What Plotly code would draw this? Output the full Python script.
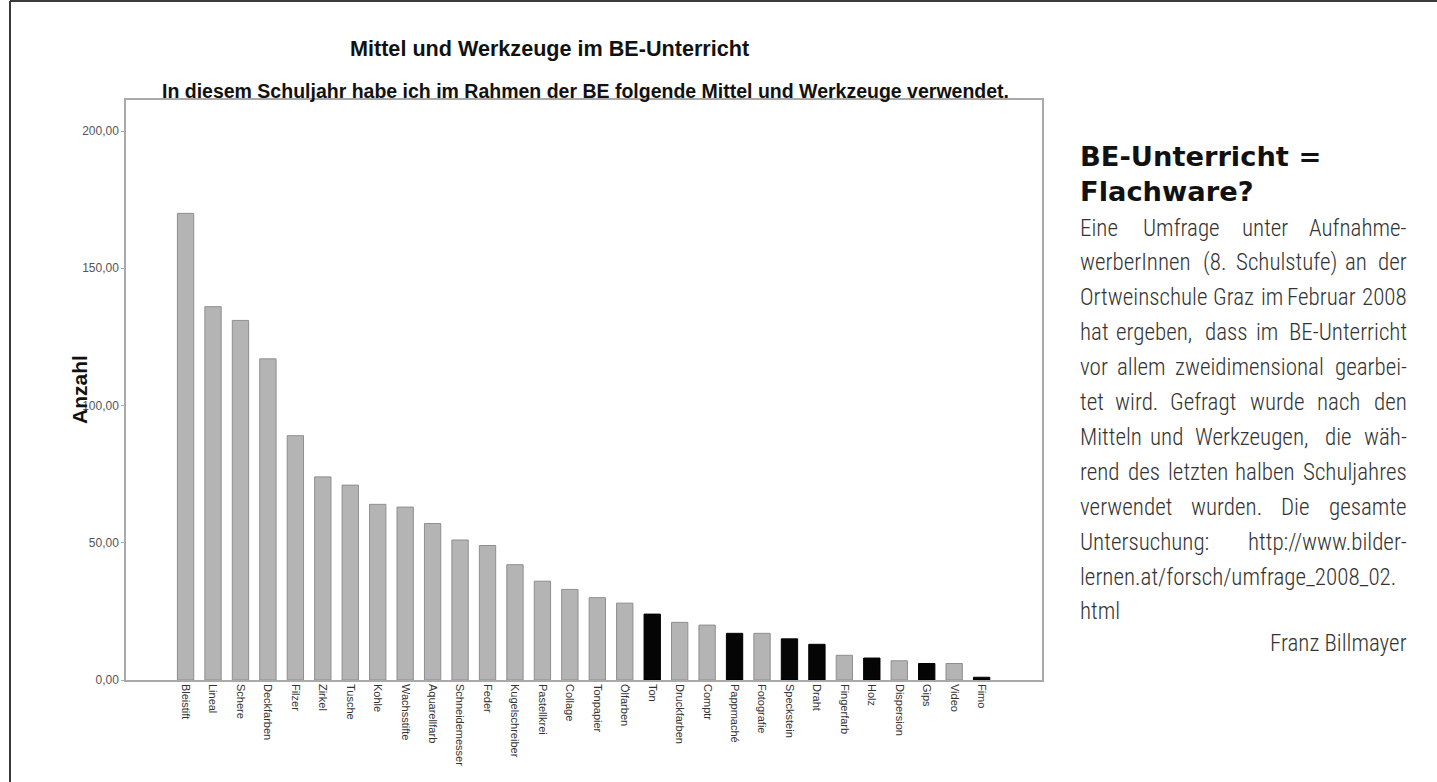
import plotly.graph_objects as go

# ---------------- data ----------------
categories = ["Bleistift", "Lineal", "Schere", "Deckfarben", "Filzer", "Zirkel", "Tusche",
              "Kohle", "Wachsstifte", "Aquarellfarb", "Schneidemesser", "Feder",
              "Kugelschreiber", "Pastellkrei", "Collage", "Tonpapier", "Ölfarben", "Ton",
              "Druckfarben", "Comptr", "Pappmaché", "Fotografie", "Speckstein", "Draht",
              "Fingerfarb", "Holz", "Dispersion", "Gips", "Video", "Fimo"]
anzahl = [170, 136, 131, 117, 89, 74, 71, 64, 63, 57, 51, 49, 42, 36, 33, 30, 28, 24,
          21, 20, 17, 17, 15, 13, 9, 8, 7, 6, 6, 1]
dreidimensional = ["Ton", "Pappmaché", "Speckstein", "Draht", "Holz", "Gips", "Fimo"]
ytick_values = [0, 50, 100, 150, 200]
ytick_labels = ["0,00", "50,00", "100,00", "150,00", "200,00"]

title_text = "Mittel und Werkzeuge im BE-Unterricht"
subtitle_text = "In diesem Schuljahr habe ich im Rahmen der BE folgende Mittel und Werkzeuge verwendet."
yaxis_title = "Anzahl"
heading_lines = ["BE-Unterricht =", "Flachware?"]
body_lines = ["Eine Umfrage unter Aufnahme-",
              "werberInnen (8. Schulstufe) an der",
              "Ortweinschule Graz im Februar 2008",
              "hat ergeben, dass im BE-Unterricht",
              "vor allem zweidimensional gearbei-",
              "tet wird. Gefragt wurde nach den",
              "Mitteln und Werkzeugen, die wäh-",
              "rend des letzten halben Schuljahres",
              "verwendet wurden. Die gesamte",
              "Untersuchung: http://www.bilder-",
              "lernen.at/forsch/umfrage_2008_02.",
              "html"]
author = "Franz Billmayer"

# ---------------- layout helpers ----------------
W, H = 1437, 782
L, R, T, B = 126, 1042, 100, 680


def px(x):
    return (x - L) / (R - L)


def py(y):
    return (B - y) / (B - T)


bar_colors = ["#050505" if c in dreidimensional else "#b4b4b4" for c in categories]
line_colors = ["#000000" if c in dreidimensional else "#8e8e8e" for c in categories]

fig = go.Figure(go.Bar(
    x=categories, y=anzahl,
    marker=dict(color=bar_colors, line=dict(color=line_colors, width=1)),
    hoverinfo="x+y",
))

axis_col = "#a9a9a9"
chart_font = "Liberation Sans, Arial, sans-serif"
fig.update_layout(
    width=W, height=H, autosize=False,
    margin=dict(l=L, r=W - R, t=T, b=H - B),
    paper_bgcolor="white", plot_bgcolor="white",
    showlegend=False, bargap=0.405,
    font=dict(family=chart_font, color="#333"),
    xaxis=dict(
        type="category", range=[-2.17, 31.2],
        showline=True, linecolor=axis_col, linewidth=1.5, mirror=True,
        showgrid=False, zeroline=False, ticks="", tickangle=90,
        tickfont=dict(size=11, color="#333", family=chart_font),
        fixedrange=True,
    ),
    yaxis=dict(
        range=[0, 211.3], tickvals=ytick_values, ticktext=ytick_labels,
        showline=True, linecolor=axis_col, linewidth=1.5, mirror=True,
        showgrid=False, zeroline=False, ticks="outside", ticklen=3, tickcolor=axis_col,
        tickfont=dict(size=12, color="#555", family=chart_font),
        fixedrange=True,
    ),
)

ann = []
# chart titles
ann.append(dict(text="<b>%s</b>" % title_text, x=px(549), y=py(49), xref="paper", yref="paper",
                xanchor="center", yanchor="middle", showarrow=False,
                font=dict(size=21.6, color="#111", family=chart_font)))
ann.append(dict(text="<b>%s</b>" % subtitle_text, x=px(585), y=py(91), xref="paper", yref="paper",
                xanchor="center", yanchor="middle", showarrow=False,
                font=dict(size=19.5, color="#111", family=chart_font)))
ann.append(dict(text="<b>%s</b>" % yaxis_title, x=px(79), y=py(390), xref="paper", yref="paper",
                xanchor="center", yanchor="middle", showarrow=False, textangle=-90,
                font=dict(size=21, color="#111", family=chart_font)))

# right-hand text column
TX_L, TX_R = 1080, 1407
for i, line in enumerate(heading_lines):
    ann.append(dict(text="<b>%s</b>" % line, x=px(TX_L), y=py(156 + 35 * i), xref="paper", yref="paper",
                    xanchor="left", yanchor="middle", showarrow=False, borderpad=0, borderwidth=0,
                    font=dict(size=27.3, color="#111", family="DejaVu Sans, Open Sans, sans-serif")))

# approximate advance widths (Arial, per 1000 em), scaled for the condensed light face
AW = {" ": 278, "(": 333, ")": 333, ",": 278, "-": 333, ".": 278, "/": 278, ":": 278, "_": 556,
      "?": 556, "I": 278, "B": 667, "E": 667, "U": 722, "O": 778, "G": 778, "F": 611, "M": 833,
      "D": 722, "W": 944, "a": 556, "b": 556, "c": 500, "d": 556, "e": 556, "f": 278, "g": 556,
      "h": 556, "i": 222, "j": 222, "k": 500, "l": 222, "m": 833, "n": 556, "o": 556, "p": 556,
      "r": 333, "s": 500, "t": 278, "u": 556, "v": 500, "w": 722, "z": 500, "ä": 556}
BODY_SIZE = 23
COND = 0.88


def tw(s):
    return sum(AW.get(ch, 556) for ch in s) / 1000 * COND * BODY_SIZE


body_font = dict(size=BODY_SIZE, color="#333", weight=300,
                 family="Roboto Condensed, Liberation Sans Narrow, Arial Narrow, sans-serif")
for i, line in enumerate(body_lines):
    y = py(228 + 34.9 * i)
    words = line.split(" ")
    last_line = (i == len(body_lines) - 1)
    if len(words) == 1 or last_line:
        ann.append(dict(text=line, x=px(TX_L), y=y, xref="paper", yref="paper", xanchor="left",
                        yanchor="middle", showarrow=False, borderpad=0, borderwidth=0, font=body_font))
        continue
    widths = [tw(w) for w in words]
    gap = (TX_R - TX_L - sum(widths)) / (len(words) - 1)
    xpos = TX_L
    for j, w in enumerate(words):
        if j == len(words) - 1:
            ann.append(dict(text=w, x=px(TX_R), y=y, xref="paper", yref="paper", xanchor="right",
                            yanchor="middle", showarrow=False, borderpad=0, borderwidth=0, font=body_font))
        else:
            ann.append(dict(text=w, x=px(xpos), y=y, xref="paper", yref="paper", xanchor="left",
                            yanchor="middle", showarrow=False, borderpad=0, borderwidth=0, font=body_font))
        xpos += widths[j] + gap

ann.append(dict(text=author, x=px(TX_R), y=py(643), xref="paper", yref="paper", xanchor="right",
                yanchor="middle", showarrow=False, borderpad=0, borderwidth=0, font=body_font))

fig.update_layout(annotations=ann)

# outer page border (top and left edges)
fig.add_shape(type="line", xref="paper", yref="paper", x0=px(10), x1=px(10), y0=py(782), y1=py(1),
              line=dict(color="#3a3a3a", width=2))
fig.add_shape(type="line", xref="paper", yref="paper", x0=px(10), x1=px(1437), y0=py(1), y1=py(1),
              line=dict(color="#3a3a3a", width=2))

fig.write_html("out.html", config={"displayModeBar": False})
